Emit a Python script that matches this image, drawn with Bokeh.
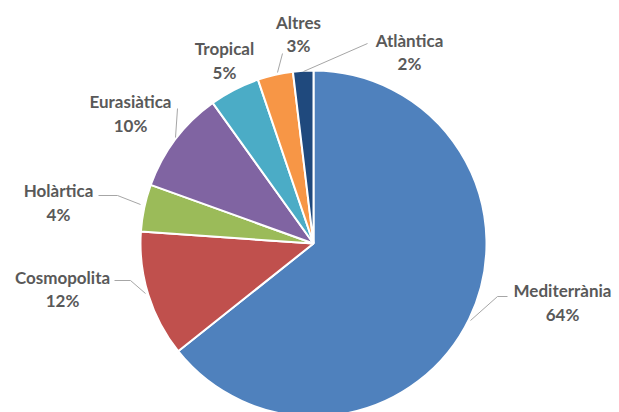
import math
from bokeh.plotting import figure
from bokeh.models import Range1d, ColumnDataSource
from bokeh.core.properties import value
from bokeh.embed import file_html
from bokeh.resources import INLINE

# ---- data ----
categories = ["Mediterrània", "Cosmopolita", "Holàrtica", "Eurasiàtica", "Tropical", "Altres", "Atlàntica"]
shares = [64.3, 11.8, 4.4, 9.6, 4.7, 3.3, 1.9]
colors = ["#4F81BD", "#C0504D", "#9BBB59", "#8064A2", "#4BACC6", "#F79646", "#1F497D"]

# ---- layout (pixel coordinates, y measured from top) ----
W, H = 619, 412
CX, CY, R = 313, 243, 173
label_pos = {
    "Mediterrània": (562, 290, 314),
    "Cosmopolita": (62, 277, 300),
    "Holàrtica": (58, 190, 214),
    "Eurasiàtica": (130, 101, 125),
    "Tropical": (224, 48, 72),
    "Altres": (298, 22, 45),
    "Atlàntica": (409, 40, 63),
}
leaders = {
    "Mediterrània": [(470, 320), (497, 296), (507, 296)],
    "Cosmopolita": [(114, 280), (130, 280), (145, 293)],
    "Holàrtica": [(98, 195), (117, 195), (140, 204)],
    "Eurasiàtica": [(177, 108), (175, 137)],
    "Altres": [(282, 53), (277, 72)],
    "Atlàntica": [(367, 43), (303, 71)],
}

def fy(y):
    return H - y

p = figure(width=W, height=H, output_backend="svg", toolbar_location=None,
           x_range=Range1d(0, W), y_range=Range1d(0, H),
           x_axis_location=None, y_axis_location=None, min_border=0)
p.outline_line_color = None
p.xgrid.visible = False
p.ygrid.visible = False
p.background_fill_color = "white"
p.border_fill_color = "white"

total = sum(shares)
starts, ends = [], []
cum = 0.0
for s in shares:
    starts.append(math.pi / 2 - 2 * math.pi * cum / total)
    cum += s
    ends.append(math.pi / 2 - 2 * math.pi * cum / total)

src = ColumnDataSource(dict(x=[CX] * len(shares), y=[fy(CY)] * len(shares),
                            start=starts, end=ends, color=colors))
p.wedge(x="x", y="y", radius=R, start_angle="start", end_angle="end",
        direction="clock", fill_color="color", line_color="white", line_width=2,
        source=src)

for name, pts in leaders.items():
    p.line([q[0] for q in pts], [fy(q[1]) for q in pts], line_color="#A6A6A6", line_width=1)

tx, ty, tt = [], [], []
for name, s in zip(categories, shares):
    x, y1, y2 = label_pos[name]
    pct = f"{round(s / total * 100)}%"
    tx += [x, x]
    ty += [fy(y1), fy(y2)]
    tt += [name, pct]
p.text(x=tx, y=ty, text=tt, text_align="center", text_baseline="middle",
       text_font=value("Lato"), text_font_style="bold", text_font_size="17px",
       text_color="#595959")

open("out.html", "w").write(file_html(p, INLINE))
